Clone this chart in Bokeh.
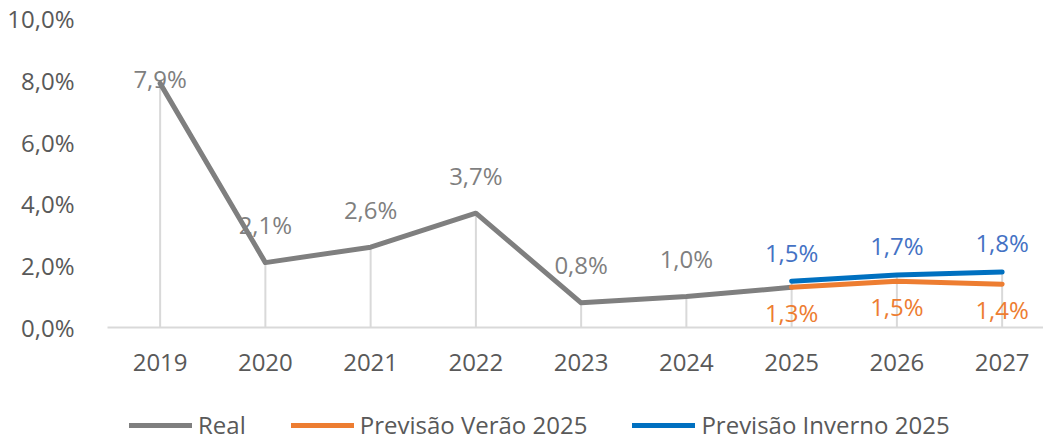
from bokeh.plotting import figure
from bokeh.models import Range1d, FixedTicker, Legend, LegendItem
from bokeh.layouts import column
from bokeh.embed import file_html
from bokeh.resources import INLINE
from bokeh.core.properties import value

years = ["2019", "2020", "2021", "2022", "2023", "2024", "2025", "2026", "2027"]
real_years = ["2019", "2020", "2021", "2022", "2023", "2024", "2025"]
real_values = [7.9, 2.1, 2.6, 3.7, 0.8, 1.0, 1.3]
real_labelled = [True, True, True, True, True, True, False]
verao_years = ["2025", "2026", "2027"]
verao_values = [1.3, 1.5, 1.4]
inverno_years = ["2025", "2026", "2027"]
inverno_values = [1.5, 1.7, 1.8]
y_ticks = [0, 2, 4, 6, 8, 10]
y_tick_labels = ["0,0%", "2,0%", "4,0%", "6,0%", "8,0%", "10,0%"]
series_names = ["Real", "Previsão Verão 2025", "Previsão Inverno 2025"]

FONT = "Open Sans"
FS = "24px"
GREY = "#7F7F7F"
ORANGE = "#ED7D31"
BLUE = "#0070C0"
BLUE_LBL = "#4472C4"
AXIS_GREY = "#D9D9D9"
TXT = "#595959"

W = 1043
H_MAIN = 382
H_LEG = 59


def idx(yrs):
    return [years.index(y) for y in yrs]


def fmt(v):
    return f"{v:.1f}".replace(".", ",") + "%"


p = figure(width=W, height=H_MAIN, x_range=Range1d(-0.5, 8.393), y_range=Range1d(0, 10),
           output_backend="svg", toolbar_location=None,
           min_border_left=107, min_border_right=0, min_border_top=18, min_border_bottom=55)
p.outline_line_color = None
p.xgrid.visible = False
p.ygrid.visible = False

# axes
p.xaxis.ticker = FixedTicker(ticks=list(range(len(years))))
p.xaxis.major_label_overrides = {i: y for i, y in enumerate(years)}
p.xaxis.axis_line_color = AXIS_GREY
p.xaxis.axis_line_width = 2
p.xaxis.major_tick_line_color = None
p.xaxis.minor_tick_line_color = None
p.xaxis.major_label_standoff = 20
p.xaxis.major_label_text_font = FONT
p.xaxis.major_label_text_font_size = FS
p.xaxis.major_label_text_color = TXT

p.yaxis.ticker = FixedTicker(ticks=y_ticks)
p.yaxis.major_label_overrides = {t: l for t, l in zip(y_ticks, y_tick_labels)}
p.yaxis.axis_line_color = None
p.yaxis.major_tick_line_color = None
p.yaxis.minor_tick_line_color = None
p.yaxis.major_label_standoff = 27
p.yaxis.major_label_text_font = FONT
p.yaxis.major_label_text_font_size = FS
p.yaxis.major_label_text_color = TXT

# drop lines from the axis up to the highest value of each year
tops = []
for y in years:
    vals = []
    for ys, vs in ((real_years, real_values), (verao_years, verao_values), (inverno_years, inverno_values)):
        if y in ys:
            vals.append(vs[ys.index(y)])
    tops.append(max(vals))
xs_all = list(range(len(years)))
p.segment(x0=xs_all, y0=[0] * len(years), x1=xs_all, y1=tops, line_color=AXIS_GREY, line_width=2)

# data labels (drawn beneath the lines)
rx = [i for i, k in zip(idx(real_years), real_labelled) if k]
rv = [v for v, k in zip(real_values, real_labelled) if k]
r_off = [-5 if v > 7 else -38 for v in rv]
p.text(x=rx, y=rv, text=[fmt(v) for v in rv], y_offset=r_off,
       text_align="center", text_baseline="middle", text_color=GREY,
       text_font=value(FONT), text_font_size=FS)
p.text(x=idx(verao_years), y=verao_values, text=[fmt(v) for v in verao_values], y_offset=25,
       text_align="center", text_baseline="middle", text_color=ORANGE,
       text_font=value(FONT), text_font_size=FS)
p.text(x=idx(inverno_years), y=inverno_values, text=[fmt(v) for v in inverno_values], y_offset=-29,
       text_align="center", text_baseline="middle", text_color=BLUE_LBL,
       text_font=value(FONT), text_font_size=FS)

p.line(idx(real_years), real_values, line_color=GREY, line_width=5,
       line_cap="round", line_join="round")
p.line(idx(verao_years), verao_values, line_color=ORANGE, line_width=5,
       line_cap="round", line_join="round")
p.line(idx(inverno_years), inverno_values, line_color=BLUE, line_width=5,
       line_cap="round", line_join="round")

# legend strip below the chart (its frame is aligned with the chart's frame)
q = figure(width=W, height=H_LEG, x_range=Range1d(0, 1), y_range=Range1d(0, 1),
           output_backend="svg", toolbar_location=None,
           x_axis_type=None, y_axis_type=None,
           min_border_left=107, min_border_right=0, min_border_top=0, min_border_bottom=0)
q.outline_line_color = None
q.xgrid.visible = False
q.ygrid.visible = False
items = []
for name, col in zip(series_names, [GREY, ORANGE, BLUE]):
    # swatch-only renderer, kept outside the visible range
    r = q.line([-10, -9], [-10, -10], line_color=col, line_width=5, line_cap="round")
    items.append(LegendItem(label=name, renderers=[r]))
legend = Legend(items=items, orientation="horizontal", location=(22, 0))
legend.label_text_font = FONT
legend.label_text_font_size = FS
legend.label_text_color = TXT
legend.glyph_width = 63
legend.glyph_height = 20
legend.spacing = 45
legend.label_standoff = 6
legend.border_line_color = None
legend.background_fill_alpha = 0
legend.padding = 0
legend.margin = 0
q.add_layout(legend, "center")

open("out.html", "w").write(file_html(column(p, q, spacing=0), INLINE))
